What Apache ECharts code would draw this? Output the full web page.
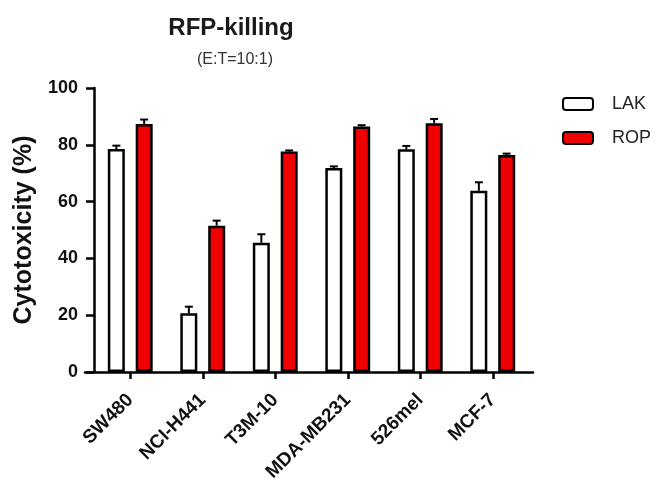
<!DOCTYPE html>
<html>
<head>
<meta charset="utf-8">
<script src="https://cdn.jsdelivr.net/npm/echarts@6/dist/echarts.min.js"></script>
<style>
html,body{margin:0;padding:0;background:#fff;}
#chart{width:657px;height:485px;}
</style>
</head>
<body>
<div id="chart"></div>
<script>
var categories = ['SW480', 'NCI-H441', 'T3M-10', 'MDA-MB231', '526mel', 'MCF-7'];
var lakValues = [78.5, 20.7, 45.5, 71.8, 78.4, 63.8];
var lakErrors = [1.2, 2.3, 3.0, 0.6, 1.2, 3.0];
var ropValues = [87.3, 51.5, 77.6, 86.4, 87.6, 76.4];
var ropErrors = [1.6, 1.8, 0.4, 0.5, 1.5, 0.5];
var yTicks = [0, 20, 40, 60, 80, 100];

var FONT = '"Liberation Sans", Arial, sans-serif';
var RED = '#f00000';
var BAR_W = 17;
var OFFSET = 13.9;

function errData(vals, errs) {
  return vals.map(function (v, i) { return [i, v, errs[i]]; });
}
function errRender(offset) {
  return function (params, api) {
    var i = api.value(0), v = api.value(1), e = api.value(2);
    var p0 = api.coord([i, v]);
    var p1 = api.coord([i, v + e]);
    var x = p0[0] + offset;
    var cap = 4;
    var st = { stroke: '#000', lineWidth: 2 };
    return {
      type: 'group',
      children: [
        { type: 'line', shape: { x1: x, y1: p0[1], x2: x, y2: p1[1] }, style: st },
        { type: 'line', shape: { x1: x - cap, y1: p1[1], x2: x + cap, y2: p1[1] }, style: st }
      ]
    };
  };
}

var chart = echarts.init(document.getElementById('chart'), null, { renderer: 'canvas' });
chart.setOption({
  backgroundColor: '#fff',
  animation: false,
  title: [
    { text: 'RFP-killing', left: 226, top: 11, textAlign: 'center',
      textStyle: { fontFamily: FONT, fontSize: 24, fontWeight: 'bold', color: '#1a1a1a' } },
    { text: '(E:T=10:1)', left: 230, top: 47, textAlign: 'center',
      textStyle: { fontFamily: FONT, fontSize: 16, fontWeight: 'normal', color: '#333' } }
  ],
  legend: {
    left: 562, top: 95, orient: 'vertical', padding: 0,
    itemWidth: 30, itemHeight: 12, itemGap: 16,
    icon: 'roundRect',
    data: ['LAK', 'ROP'],
    textStyle: { fontFamily: FONT, fontSize: 18, color: '#222', padding: [0, 0, 0, 14] }
  },
  grid: [
    { left: 94, right: 128, top: 88, bottom: 113 },
    { left: 85, right: 124, top: 88, bottom: 113 }
  ],
  xAxis: [
    {
      type: 'category', gridIndex: 0, data: categories,
      axisLine: { show: false },
      axisTick: { show: true, alignWithLabel: true, length: 7, lineStyle: { color: '#000', width: 2.5 } },
      axisLabel: { rotate: 45, margin: 25, interval: 0, fontFamily: FONT, fontSize: 19, fontWeight: 'bold', color: '#111' }
    },
    {
      type: 'value', gridIndex: 1, min: 0, max: 1,
      axisLine: { show: true, onZero: false, lineStyle: { color: '#000', width: 2.5 } },
      axisTick: { show: false }, axisLabel: { show: false }, splitLine: { show: false }
    }
  ],
  yAxis: [
    {
      type: 'value', gridIndex: 0, min: 0, max: 100, interval: 20,
      name: 'Cytotoxicity (%)', nameLocation: 'middle', nameGap: 57,
      nameTextStyle: { fontFamily: FONT, fontSize: 25, fontWeight: 'bold', color: '#111' },
      axisLine: { show: true, lineStyle: { color: '#000', width: 2.5 } },
      axisTick: { show: true, length: 8, lineStyle: { color: '#000', width: 2.5 } },
      axisLabel: { margin: 16, fontFamily: FONT, fontSize: 18, fontWeight: 'bold', color: '#111',
        formatter: function (v) { return yTicks.indexOf(v) >= 0 ? String(v) : ''; } },
      splitLine: { show: false }
    },
    {
      type: 'value', gridIndex: 1, min: 0, max: 100, show: false
    }
  ],
  series: [
    {
      name: 'LAK', type: 'bar', xAxisIndex: 0, yAxisIndex: 0,
      data: lakValues, barWidth: BAR_W, barGap: '64%',
      itemStyle: { color: '#fff', borderColor: '#000', borderWidth: 2.5 }
    },
    {
      name: 'ROP', type: 'bar', xAxisIndex: 0, yAxisIndex: 0,
      data: ropValues, barWidth: BAR_W, barGap: '64%',
      itemStyle: { color: RED, borderColor: '#000', borderWidth: 2.5 }
    },
    {
      type: 'custom', xAxisIndex: 0, yAxisIndex: 0, z: 5,
      data: errData(lakValues, lakErrors), renderItem: errRender(-OFFSET),
      encode: { x: 0, y: 1 }
    },
    {
      type: 'custom', xAxisIndex: 0, yAxisIndex: 0, z: 5,
      data: errData(ropValues, ropErrors), renderItem: errRender(OFFSET),
      encode: { x: 0, y: 1 }
    }
  ]
});
</script>
</body>
</html>
